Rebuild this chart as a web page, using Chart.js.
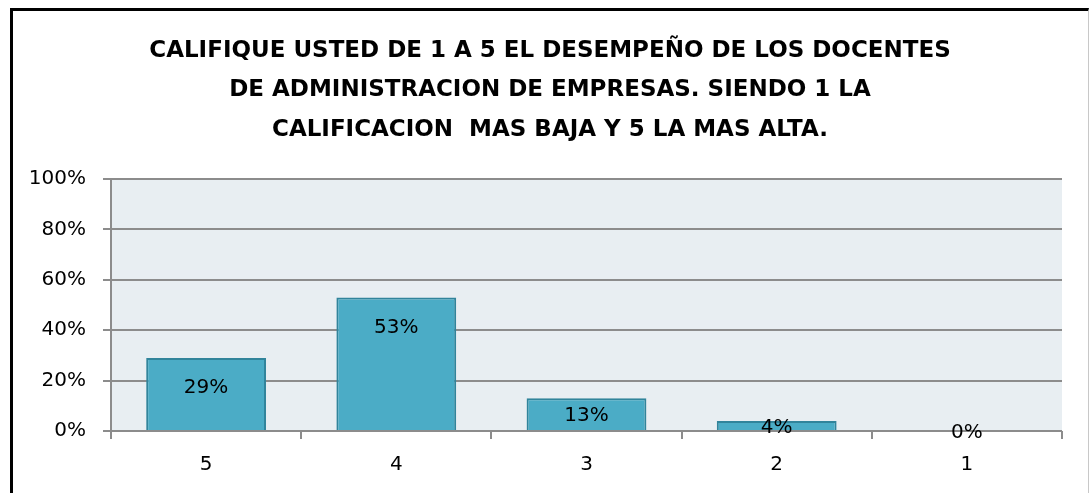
<!DOCTYPE html>
<html>
<head>
<meta charset="utf-8">
<script src="https://cdn.jsdelivr.net/npm/chart.js@4.4.1/dist/chart.umd.min.js"></script>
<style>
  html,body{margin:0;padding:0;background:#fff;}
  #wrap{position:relative;width:1089px;height:493px;overflow:hidden;}
  #frame{position:absolute;left:10px;top:8px;width:1075px;height:500px;
    border-left:3px solid #000;border-top:3px solid #000;border-right:1px solid #c8c8c8;}
  canvas{position:absolute;left:0;top:0;}
</style>
</head>
<body>
<div id="wrap">
  <div id="frame"></div>
  <canvas id="chart" width="1089" height="493"></canvas>
</div>
<script>
// datos
const titleLines = [
  'CALIFIQUE USTED DE 1 A 5 EL DESEMPEÑO DE LOS DOCENTES',
  'DE ADMINISTRACION DE EMPRESAS. SIENDO 1 LA',
  'CALIFICACION  MAS BAJA Y 5 LA MAS ALTA.'
];
const categorias = ['5','4','3','2','1'];
const valores    = [29, 53, 13, 4, 0];   // %

const FONT = '"DejaVu Sans", sans-serif';
Chart.defaults.font.family = FONT;
Chart.defaults.color = '#000';

// fondo del area de trazado
const plotBg = {
  id:'plotBg',
  beforeDraw(chart){
    const {ctx, chartArea:a} = chart;
    ctx.save();
    ctx.fillStyle = '#e8eef2';
    ctx.fillRect(a.left, a.top, a.right-a.left, a.bottom-a.top);
    ctx.restore();
  }
};

// titulo centrado sobre todo el marco del grafico (no sobre el area de trazado)
const chartTitle = {
  id:'chartTitle',
  afterDraw(chart){
    const {ctx} = chart;
    ctx.save();
    ctx.font = 'bold 23px ' + FONT;
    ctx.fillStyle = '#000';
    ctx.textAlign = 'center';
    ctx.textBaseline = 'middle';
    titleLines.forEach((t, i) => ctx.fillText(t, 550, 51 + i*39.5));
    ctx.restore();
  }
};

// etiquetas de datos (cerca del extremo interior de la barra)
const dataLabels = {
  id:'dataLabels',
  afterDatasetsDraw(chart){
    const {ctx} = chart;
    const meta = chart.getDatasetMeta(0);
    ctx.save();
    ctx.font = '20px ' + FONT;
    ctx.fillStyle = '#000';
    ctx.textAlign = 'center';
    ctx.textBaseline = 'middle';
    meta.data.forEach((bar, i) => {
      const top = bar.y, base = bar.base;
      const y = Math.min(top + 30, (top + base)/2 + 2);
      ctx.fillText(valores[i] + '%', bar.x, y);
    });
    ctx.restore();
  }
};

new Chart(document.getElementById('chart').getContext('2d'), {
  type:'bar',
  data:{
    labels: categorias,
    datasets:[{
      data: valores,
      backgroundColor:'#4bacc6',
      borderColor:'#31849b',
      borderWidth:2,
      categoryPercentage:1,
      barPercentage:0.63
    }]
  },
  options:{
    responsive:false,
    animation:false,
    devicePixelRatio:1,
    layout:{ padding:{ left:0, right:27, top:179, bottom:0 } },
    plugins:{
      legend:{ display:false },
      tooltip:{ enabled:false },
      title:{ display:false }
    },
    scales:{
      x:{
        grid:{ display:true, drawOnChartArea:false, drawTicks:true, tickLength:8,
               color:'#8c8c8c', lineWidth:2, offset:true },
        border:{ display:false },
        ticks:{ font:{ size:20 }, padding:14 },
        afterFit(s){ s.height = 62; }
      },
      y:{
        min:0, max:100,
        ticks:{ stepSize:20, font:{ size:20 }, padding:17, callback:v=>v+'%' },
        grid:{ color:'#8c8c8c', lineWidth:2, tickLength:8 },
        border:{ display:true, color:'#8c8c8c', width:2 },
        afterFit(s){ s.width = 111; }
      }
    }
  },
  plugins:[plotBg, chartTitle, dataLabels]
});
</script>
</body>
</html>
